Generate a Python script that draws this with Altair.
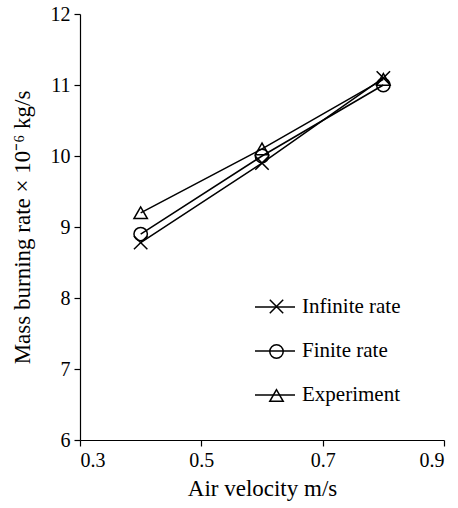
import altair as alt
import pandas as pd

velocity = [0.4, 0.6, 0.8]
infinite_rate = [8.78, 9.9, 11.1]
finite_rate = [8.9, 10.0, 11.0]
experiment = [9.2, 10.1, 11.08]
series_names = ["Infinite rate", "Finite rate", "Experiment"]
x_ticks = [0.3, 0.5, 0.7, 0.9]
y_ticks = [6, 7, 8, 9, 10, 11, 12]

rows = []
for name, vals in zip(series_names, [infinite_rate, finite_rate, experiment]):
    for v, m in zip(velocity, vals):
        rows.append({"series": name, "v": v, "m": m})
df = pd.DataFrame(rows)

FONT = "Liberation Serif"
xenc = alt.X("v:Q", scale=alt.Scale(domain=[0.3, 0.9], nice=False),
             axis=alt.Axis(values=x_ticks, format=".1f", title="Air velocity m/s", titlePadding=7))
yenc = alt.Y("m:Q", scale=alt.Scale(domain=[6, 12], nice=False, zero=False),
             axis=alt.Axis(values=y_ticks, format="d", titlePadding=16,
                           title="Mass burning rate \u00d7 10\u207b\u2076 kg/s"))

lines = alt.Chart(df).mark_line(strokeWidth=1.5).encode(
    x=xenc, y=yenc,
    color=alt.Color("series:N",
                    scale=alt.Scale(domain=series_names, range=["black", "black", "black"]),
                    legend=alt.Legend(orient="none", legendX=174, legendY=272, title=None,
                                      symbolType="stroke", symbolSize=1600, symbolStrokeWidth=1.5,
                                      labelFont=FONT, labelFontSize=21, labelColor="black",
                                      labelOffset=6, rowPadding=13)),
    detail="series:N",
)

x_path = "M-1,-1L1,1M1,-1L-1,1"
points = alt.Chart(df).mark_point(filled=False, color="black", strokeWidth=1.5, size=180, opacity=1).encode(
    x=xenc, y=yenc,
    shape=alt.Shape("series:N",
                    scale=alt.Scale(domain=series_names, range=[x_path, "circle", "triangle-up"]),
                    legend=alt.Legend(orient="none", legendX=188, legendY=284, title=None,
                                      symbolSize=180, symbolStrokeWidth=1.5, symbolStrokeColor="black",
                                      symbolFillColor="transparent", labelExpr="''",
                                      labelFont=FONT, labelFontSize=17,
                                      labelOffset=20, rowPadding=24)),
)

chart = (lines + points).resolve_legend(color="independent", shape="independent").properties(
    width=364, height=426,
    autosize=alt.AutoSizeParams(type="none"),
    padding={"left": 80, "top": 14, "right": 14, "bottom": 68},
).configure_view(stroke=None).configure_axis(
    grid=False, domainColor="black", tickColor="black", labelColor="black",
    titleColor="black", labelFont=FONT, titleFont=FONT, labelFontSize=20,
    titleFontSize=23, titleFontWeight="normal", tickSize=6, domainWidth=1.2, tickWidth=1.2,
    labelPadding=4
).configure_legend(labelFont=FONT)

chart.save("out.html", embed_options={"renderer": "svg", "actions": False})
